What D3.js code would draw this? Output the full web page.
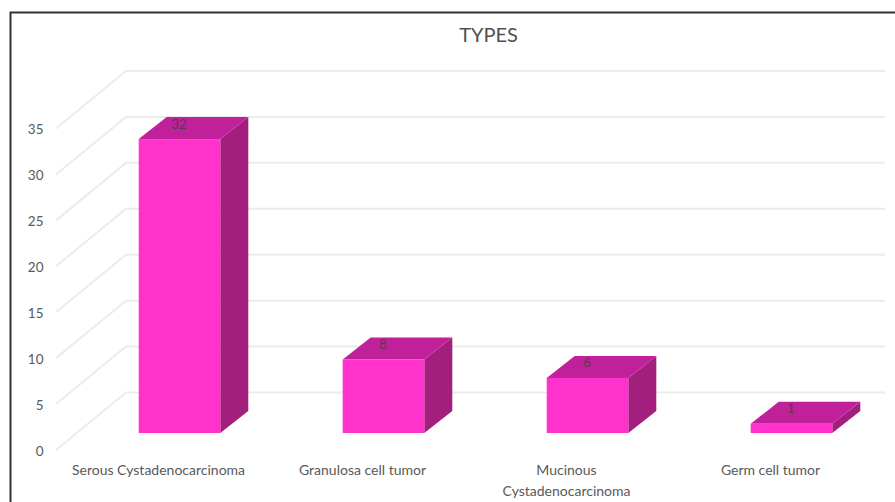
<!DOCTYPE html>
<html>
<head>
<meta charset="utf-8">
<script src="https://cdn.jsdelivr.net/npm/d3@7/dist/d3.min.js"></script>
<style>
html, body { margin: 0; padding: 0; background: #fff; }
svg { display: block; font-family: Lato, "Open Sans", sans-serif; }
</style>
</head>
<body>
<div id="chart"></div>
<script>
// Tumour type counts
const categories = ["Serous Cystadenocarcinoma", "Granulosa cell tumor", "Mucinous Cystadenocarcinoma", "Germ cell tumor"];
const counts = [32, 8, 6, 1];
const yTicks = [0, 5, 10, 15, 20, 25, 30, 35];
const chartTitle = "TYPES";

const width = 895, height = 502;
const svg = d3.select("#chart").append("svg").attr("width", width).attr("height", height);

// Frame: only the top and left edges fall inside the canvas
svg.append("path")
  .attr("d", "M10.5,502V12.5H895")
  .attr("fill", "none").attr("stroke", "#333").attr("stroke-width", 2);

svg.append("text")
  .attr("x", 488.5).attr("y", 42)
  .attr("text-anchor", "middle").attr("font-size", 20).attr("fill", "#505050")
  .text(chartTitle);

// Pseudo-3D projection: wall sits up-right of the front axis, bars halfway between
const yFront = d3.scaleLinear().domain([0, 35]).range([450, 128.5]);
const wall = { dx: 70, dy: -57.5 };
const barBase = { dy: -17 };
const depth = { dx: 28, dy: -22 };
const yBar = v => yFront(v) + barBase.dy;

const x = d3.scaleBand().domain(categories).range([77.5, 893.5])
  .paddingInner(0.6).paddingOuter(0.3);

// Floor/side lines and back-wall gridlines
const grid = svg.append("g").attr("fill", "none").attr("stroke", "#ececec").attr("stroke-width", 2);
const frontX = 56, wallRight = 885;
grid.selectAll("path").data(yTicks).join("path")
  .attr("d", t => {
    const y0 = yFront(t);
    return d3.line()([[frontX, y0], [frontX + wall.dx, y0 + wall.dy], [wallRight, y0 + wall.dy]]);
  });

// Value axis labels
const yAxis = d3.axisLeft(yFront).tickValues(yTicks).tickSize(0).tickPadding(0);
const yG = svg.append("g").attr("transform", "translate(43.5,1)").call(yAxis);
yG.select(".domain").remove();
yG.selectAll("text").attr("font-size", 13.5).attr("fill", "#595959").attr("font-family", "Lato, sans-serif");

// Bars: side face, top face, front face
const bars = svg.append("g").selectAll("g").data(categories).join("g");

bars.append("path").attr("fill", "#A31F7D").attr("d", (c, i) => {
  const r = x(c) + x.bandwidth(), t = yBar(counts[i]), b = yBar(0);
  return d3.line()([[r, t], [r + depth.dx, t + depth.dy], [r + depth.dx, b + depth.dy], [r, b]]) + "Z";
});
bars.append("path").attr("fill", "#C0219A").attr("d", (c, i) => {
  const l = x(c), r = l + x.bandwidth(), t = yBar(counts[i]);
  return d3.line()([[l, t], [l + depth.dx, t + depth.dy], [r + depth.dx, t + depth.dy], [r, t]]) + "Z";
});
bars.append("rect").attr("fill", "#FF33CC")
  .attr("x", c => x(c)).attr("width", x.bandwidth())
  .attr("y", (c, i) => yBar(counts[i]))
  .attr("height", (c, i) => yBar(0) - yBar(counts[i]));

// Value labels sit on the top face
bars.append("text")
  .attr("x", c => x(c) + x.bandwidth() / 2 - 0.5)
  .attr("y", (c, i) => yBar(counts[i]) + depth.dy / 2 + 0.5)
  .attr("text-anchor", "middle").attr("font-size", 13.5).attr("fill", "#404040").attr("fill-opacity", 0.85)
  .text((c, i) => counts[i]);

// Category labels, wrapped the way the long name needs it
const labelLines = c => c === "Mucinous Cystadenocarcinoma" ? ["Mucinous", "Cystadenocarcinoma"] : [c];
const catLabels = svg.append("g").selectAll("text").data(categories).join("text")
  .attr("text-anchor", "middle").attr("font-size", 14).attr("fill", "#595959");
catLabels.selectAll("tspan").data(c => labelLines(c).map(l => ({ c, l }))).join("tspan")
  .attr("x", d => x(d.c) + x.bandwidth() / 2 - 21)
  .attr("y", (d, i) => 475 + i * 20.5)
  .text(d => d.l);
</script>
</body>
</html>
